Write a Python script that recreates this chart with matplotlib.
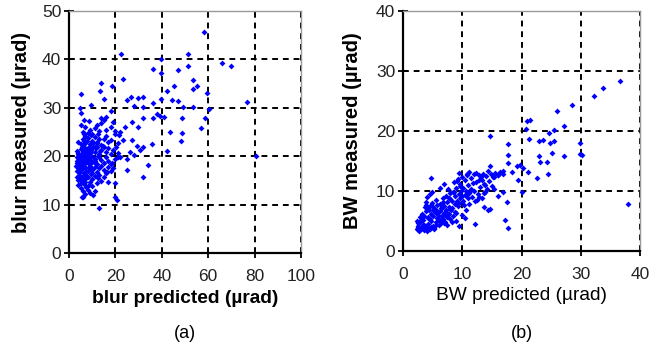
import matplotlib
matplotlib.use("Agg")
import matplotlib.pyplot as plt

plt.rcParams['font.family'] = ['Liberation Sans', 'DejaVu Sans']

# (a) blur: predicted vs measured (urad)
blur_pred = [
    # sparse points
    58.3, 22.3, 51.1, 39.7, 66.1, 69.8, 51.1, 36.1, 47.1, 39.7, 23.4, 53.6, 13.8, 55.1, 18.7,
    45.4, 13.4, 53.6, 59.3, 5.2, 42.1, 15.2, 39.7, 44.3, 46.8, 76.6, 24.9, 26.7, 29.6, 31.8,
    36.1, 49.0, 60.5, 53.3, 18.1, 9.5, 4.7, 28.2, 32.1, 37.8, 39.2, 36.4, 40.9, 48.6, 58.6,
    56.9, 32.1, 43.5, 48.6, 48.3, 42.1, 29.6, 27.0, 24.1, 22.0, 35.6, 32.1, 30.6, 28.2, 24.9,
    33.9, 24.9, 32.1, 16.7, 19.8, 19.8, 20.6, 12.9, 6.2, 80.6, 21.6, 23.4, 27.0, 29.3, 26.3,
    20.1, 21.0, 18.4, 16.2,
    # dense cluster
    5, 6, 7, 8, 9, 10, 4, 11, 6.5, 8.5, 5.5, 10.5, 12, 14, 7.5,
    4, 5, 6, 7, 8, 9, 10, 11, 4.5, 3.5, 6.2, 12.5, 13, 15, 16, 9.5, 5.2,
    3.5, 4, 4.5, 5, 5.5, 6, 6.5, 7, 7.5, 8, 8.5, 9, 10, 11, 12, 13, 14, 15, 17, 18, 19, 3.2, 9.8,
    3.5, 4, 4.5, 5, 5.5, 6, 6.5, 7, 7.5, 8, 8.5, 9, 9.5, 10, 11, 12, 13, 14, 15, 16, 17, 18,
    20, 22, 4.2, 7.2, 10.5,
    3.5, 4, 5, 6, 6.5, 7, 8, 8.5, 9, 10, 11, 12, 13, 14, 15, 16, 17, 18, 19, 21, 5.5, 9.5, 11.5,
    4, 5, 6, 7, 8, 9, 10, 11, 12, 13, 14, 15, 16, 17, 18, 20, 21, 9.5, 6.8, 12.5,
    6, 7, 8, 9, 10, 11, 12, 13, 14, 15, 16, 18, 19, 20, 5, 6.5, 8.5, 16, 14, 5,
    4.6, 5.8, 6.9, 7.8, 8.8, 3.9, 4.8, 6.1, 7.3, 8.2, 9.3, 5.3, 6.7, 7.9, 4.4, 10.2,
    3.8, 4.3, 5.1, 5.7, 6.3, 7.1, 7.7, 8.4, 9.1, 10.8, 11.8, 12.7, 3.6, 4.9, 6.0, 7.4,
    8.1, 9.7, 10.3, 11.3, 5.6, 6.6, 8.7, 13.5, 4.1, 5.4, 7.0, 9.2, 3.4, 12.2, 14.6, 6.4,
]
blur_meas = [
    45.7, 41.1, 41.1, 40.0, 39.3, 38.7, 38.7, 38.1, 37.8, 37.2, 35.9, 35.7, 35.2, 34.5, 34.5,
    34.5, 33.4, 33.8, 33.0, 32.8, 33.5, 31.9, 31.9, 31.7, 31.4, 31.2, 31.6, 32.3, 32.1, 32.3,
    30.9, 30.1, 29.7, 30.1, 29.3, 30.6, 29.9, 30.3, 30.1, 28.8, 28.3, 27.8, 28.1, 27.9, 27.8,
    25.9, 27.9, 25.0, 24.7, 23.1, 21.1, 26.1, 27.1, 26.1, 25.0, 22.6, 21.9, 21.2, 20.2, 19.5,
    18.1, 17.1, 15.7, 14.7, 14.5, 11.6, 11.0, 9.2, 11.6, 20.1, 24.3, 23.3, 23.3, 22.1, 20.9,
    21.9, 19.9, 18.5, 16.8,
    13.5, 12.8, 12.2, 13.0, 12.5, 13.8, 14.0, 12.9, 14.2, 14.0, 11.6, 12.0, 14.5, 14.8, 13.6,
    15, 15.5, 14.8, 15.2, 15.8, 14.6, 15.3, 16, 16.2, 15.8, 16, 15.5, 16.2, 15.8, 16.5, 16.3, 14.5,
    17, 17.5, 16.8, 17.2, 18, 17.5, 16.6, 17.8, 17.0, 16.9, 17.6, 18, 17.2, 17.8, 16.8, 17.5, 18,
    17.2, 17.8, 16.9, 17.5, 18, 16.5,
    19, 18.5, 19.5, 18.8, 19.8, 19.2, 18.3, 19.6, 18.9, 19.9, 18.5, 19.3, 20, 18.7, 19.5, 18.4,
    19.8, 19.2, 18.6, 19.9, 19.1, 18.3, 19.5, 19.8, 20, 20.2, 19.9,
    21, 20.5, 21.5, 20.8, 21.8, 20.6, 21.2, 22, 20.7, 21.6, 20.9, 21.8, 20.5, 21.3, 22, 20.8, 21.6,
    20.4, 21.2, 20.7, 22, 21.3, 22.2,
    23, 22.5, 23.5, 22.8, 23.8, 22.6, 23.2, 24, 22.7, 23.6, 22.4, 23.5, 24.2, 22.9, 23.4, 24.5,
    22.8, 24.3, 24.1, 24.5,
    25, 26, 24.8, 25.5, 24.6, 25.8, 26.5, 25.2, 26.8, 27.4, 25.5, 26, 27, 25.3, 26.5, 27.5, 27.2,
    28, 27.8, 29,
    18.2, 20.4, 16.4, 21.4, 19.6, 20.6, 17.9, 22.3, 15.6, 18.7, 20.9, 19.3, 14.6, 23.2, 16.9, 21.9,
    17.7, 19.4, 20.3, 18.1, 21.1, 16.2, 19.0, 20.5, 17.4, 18.9, 21.7, 20.1, 18.6, 16.7, 22.4, 19.7,
    21.5, 17.3, 22.8, 19.0, 15.1, 23.1, 18.4, 21.0, 16.0, 14.9, 20.8, 17.6, 19.9, 23.0, 22.1, 24.6,
]

# (b) BW: predicted vs measured (urad)
bw_pred = [
    # sparse points
    36.6, 33.8, 32.3, 28.6, 26.0, 27.2, 25.5, 24.7, 23.7, 21.2, 21.0, 21.4, 20.7, 22.9, 24.8,
    25.5, 29.8, 29.8, 30.2, 27.2, 22.9, 25.2, 23.1, 24.3, 24.4, 22.6, 21.1, 20.3, 19.8, 19.2,
    17.8, 17.8, 17.8, 14.7, 14.6, 18.4, 19.4, 20.0, 17.5, 17.2, 17.7, 14.4, 12.2, 37.9, 4.8,
    16.9, 16.1, 15.3, 16.9, 16.1, 15.3, 13.9, 13.3, 12.8, 11.9, 10.8, 9.9, 9.1, 13.6, 12.5,
    # dense diagonal
    2.3, 2.5, 2.7, 2.8, 3, 3.1, 3.3, 3.5, 3.6, 3.8, 2.4, 2.9, 3.2, 3.9, 4, 2.6,
    4.2, 4.3, 4.4, 4.5, 4.6, 4.7, 4.8, 4.9, 5, 5.1, 5.2, 5.3, 5.4, 5.5, 5.6, 5.7, 5.8, 5.9, 6,
    4.1, 4.5, 4.9, 3.8, 4.0,
    6.1, 6.2, 6.3, 6.4, 6.5, 6.6, 6.7, 6.8, 6.9, 7, 7.1, 7.2, 7.3, 7.4, 7.5, 7.6, 7.7, 7.8, 7.9,
    8, 6.3, 7.0, 7.5,
    8.1, 8.2, 8.3, 8.4, 8.5, 8.6, 8.7, 8.8, 8.9, 9, 9.1, 9.2, 9.3, 9.4, 9.5, 9.6, 9.7, 9.8, 9.9,
    10, 8.3, 9.0, 9.5,
    10.1, 10.2, 10.3, 10.4, 10.5, 10.6, 10.7, 10.8, 10.9, 11, 11.1, 11.2, 11.4, 11.5, 11.6, 11.8,
    12, 12.1, 12.3, 10.5, 12.4, 11.2,
    12.6, 12.8, 13, 13.2, 13.4, 13.6, 13.8, 14, 14.2, 14.5, 14.8, 15, 13.5, 14.3, 15.2, 15.5, 16,
    16.4, 16.8, 12.9, 13.7, 14.6,
    3.4, 4.1, 5.0, 5.6, 6.4, 7.2, 4.6, 5.3, 6.0, 3.7, 6.8, 7.7, 8.6, 9.4, 5.8,
    2.5, 3.0, 3.5, 4.2, 4.8, 5.5, 6.2, 6.9, 7.4, 8.0, 3.3, 4.4, 5.1, 6.6, 7.9, 8.8, 2.8, 4.0,
    5.7, 6.5, 9.7, 10.7, 11.4, 3.9,
]
bw_meas = [
    28.3, 27.2, 25.9, 24.4, 23.4, 20.8, 20.2, 19.7, 18.5, 18.6, 21.6, 21.8, 20.4, 18.3, 18.0,
    18.3, 18.0, 16.1, 16.0, 15.9, 15.8, 16.4, 14.9, 14.8, 12.8, 12.1, 13.2, 13.8, 14.3, 14.1,
    17.9, 16.0, 14.6, 19.1, 14.2, 13.2, 11.8, 9.9, 8.2, 5.2, 3.8, 6.8, 4.5, 7.8, 12.1,
    12.9, 12.7, 12.4, 9.8, 9.1, 10.4, 11.0, 11.8, 12.7, 12.9, 12.9, 12.4, 11.6, 9.6, 8.5,
    3.6, 4.2, 3.3, 4.8, 3.9, 5.2, 4.4, 3.5, 5.8, 4.1, 5.0, 5.6, 6.2, 6.6, 3.8, 4.6,
    4.5, 5.5, 6.8, 7.5, 3.6, 5.0, 6.2, 8.0, 4.2, 5.8, 7.0, 3.9, 6.5, 8.5, 4.8, 5.5, 7.6, 6.0, 4.4,
    7.2, 9.5, 9.8, 8.2, 9.0,
    5.2, 6.6, 7.8, 4.6, 5.9, 7.2, 8.8, 5.4, 6.3, 7.5, 4.9, 9.2, 6.8, 5.6, 8.1, 10.3, 6.1, 7.4, 9.6,
    5.3, 10.5, 11.2, 4.3,
    6.8, 8.4, 7.2, 9.8, 5.8, 11.5, 7.9, 9.1, 6.4, 10.5, 8.3, 12.0, 7.5, 9.5, 4.2, 11.2, 8.8, 10.0,
    6.0, 9.2, 4.8, 5.0, 13.0,
    8.3, 10.5, 7.6, 11.8, 9.4, 6.8, 10.0, 12.6, 8.9, 11.0, 9.7, 7.9, 10.4, 12.2, 9.0, 11.3,
    10.0, 8.4, 13.0, 5.5, 11.5, 13.2,
    9.5, 11.8, 10.6, 12.3, 8.9, 11.2, 9.8, 12.5, 10.4, 11.6, 12.9, 10.9, 12.8, 13.3, 12.4, 13.0,
    12.6, 13.1, 13.4, 9.0, 7.3, 7.0,
    5.1, 4.0, 6.9, 4.3, 7.1, 6.0, 5.3, 3.6, 5.3, 7.4, 8.2, 8.8, 9.9, 8.0, 6.7,
    4.0, 3.7, 4.3, 5.6, 4.0, 6.9, 5.0, 4.6, 6.4, 7.0, 5.6, 3.6, 7.3, 5.8, 8.7, 6.5, 4.9, 3.4,
    6.3, 7.9, 10.9, 9.3, 10.1, 7.6,
]

panels = [
    dict(x=blur_pred, y=blur_meas, xmax=100, ymax=50, xstep=20, ystep=10,
         xlabel="blur predicted (\u00b5rad)", ylabel="blur measured (\u00b5rad)",
         xweight="bold", yweight="bold", cap="(a)",
         rect=[69 / 659, 91 / 344, 232 / 659, 242 / 344], xl=-0.186, yl=-0.203),
    dict(x=bw_pred, y=bw_meas, xmax=40, ymax=40, xstep=10, ystep=10,
         xlabel="BW predicted (\u00b5rad)", ylabel="BW measured (\u00b5rad)",
         xweight="normal", yweight="bold", cap="(b)",
         rect=[403 / 659, 93 / 344, 237 / 659, 240 / 344], xl=-0.1875, yl=-0.215),
]

fig = plt.figure(figsize=(6.59, 3.44), dpi=100)

for p in panels:
    ax = fig.add_axes(p["rect"])
    ax.scatter(p["x"], p["y"], s=9, marker="D", color="#0000ff", linewidths=0, zorder=3)
    ax.set_xlim(0, p["xmax"])
    ax.set_ylim(0, p["ymax"])
    ax.set_xticks(range(0, p["xmax"] + 1, p["xstep"]))
    ax.set_yticks(range(0, p["ymax"] + 1, p["ystep"]))
    ax.grid(True, color="black", linestyle=(0, (3, 2.5)), linewidth=1.4, zorder=1)
    ax.set_axisbelow(True)
    for side in ["top", "right"]:
        ax.spines[side].set_color("#999999")
        ax.spines[side].set_linewidth(1.0)
    for side in ["left", "bottom"]:
        ax.spines[side].set_color("black")
        ax.spines[side].set_linewidth(1.6)
    ax.tick_params(direction="inout", length=7, width=1.3, labelsize=12.5,
                   labelcolor="#222222")
    ax.tick_params(axis="x", pad=8)
    ax.tick_params(axis="y", pad=2)
    ax.set_xlabel(p["xlabel"], fontsize=13.8, fontweight=p["xweight"], va="center")
    ax.set_ylabel(p["ylabel"], fontsize=14.5, fontweight=p["yweight"], va="center")
    ax.xaxis.set_label_coords(0.5, p["xl"])
    ax.yaxis.set_label_coords(p["yl"], 0.5)
    cx = p["rect"][0] + p["rect"][2] / 2
    fig.text(cx, 11 / 344, p["cap"], ha="center", va="center", fontsize=13)

fig.savefig("out.png", dpi=100)
